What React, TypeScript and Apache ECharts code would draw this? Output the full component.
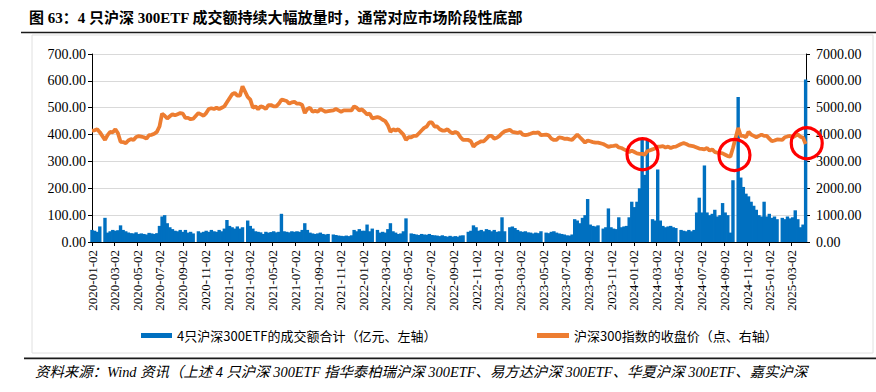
import React, { useEffect, useRef } from 'react';
import * as echarts from 'echarts';

const TITLE = '图 63：4 只沪深 300ETF 成交额持续大幅放量时，通常对应市场阶段性底部';
const SOURCE = '资料来源：Wind 资讯（上述 4 只沪深 300ETF 指华泰柏瑞沪深 300ETF、易方达沪深 300ETF、华夏沪深 300ETF、嘉实沪深';
const BAR_NAME = '4只沪深300ETF的成交额合计（亿元、左轴）';
const LINE_NAME = '沪深300指数的收盘价（点、右轴）';

// Weekly readings (one point per week, dated on the Wednesday), first week: 2020-01-01
const FIRST_WEEK = '2020-01-01';
const AXIS_START = '2020-01-01';
const AXIS_END = '2025-04-10';

// 4 ETFs turnover, 亿元 (left axis); null = exchange holiday week
const vol2020 = [45, 42, 38, 58, null, 90, 35, 40, 45, 42, 44, 62, 45, 40, 35, 33, 32, 36, 30, 32, 30, 28, 34, 32, 30, 33, 60, 95, 100, 70, 55, 48, 42, 40, 45, 38, 45, 35, 38, 32, null, 40, 35, 38, 42, 38, 45, 40, 38, 45, 40, 50, 82];
const vol2021 = [60, 55, 50, 58, 50, 55, null, 80, 60, 50, 40, 38, 36, 30, 38, 35, 37, 40, 36, 38, 105, 40, 38, 36, 40, 38, 40, 38, 45, 70, 45, 35, 32, 30, 32, 35, 30, 28, 30, null, 28, 26, 24, 23, 22, 24, 22, 25, 45, 40, 48, 42];
const vol2022 = [42, 65, 40, 50, null, 45, 35, 38, 35, 48, 70, 40, 35, 30, 32, 40, 88, null, 32, 30, 28, 26, 30, 28, 27, 30, 26, 25, 24, 22, 25, 22, 20, 23, 20, 22, 20, 24, 25, null, 38, 42, 62, 55, 42, 45, 40, 48, 45, 40, 45, 38];
const vol2023 = [40, 92, 40, null, 55, 58, 52, 45, 40, 38, 40, 36, 35, 32, 35, 33, 40, null, 35, 33, 38, 40, 35, 32, 30, 28, 25, 24, 28, 85, 80, 70, 90, 100, 160, 65, 60, 58, 62, null, 50, 55, 125, 55, 50, 48, 92, 55, 58, 60, 92, 150];
const vol2024 = [130, 150, 200, 380, 250, 380, null, 85, 80, 270, 80, 60, 55, 58, 60, 55, 52, null, 45, 42, 40, 45, 40, 45, 110, 165, 110, 285, 110, 100, 105, 120, 95, 100, 145, 110, 100, 35, 230, null, 540, 240, 205, 180, 170, 150, 135, 120, 100, 95, 150, 95];
const vol2025 = [105, 90, 95, 85, null, 90, 85, 95, 88, 92, 118, 85, 55, 65, 605];

// CSI 300 close, points (right axis)
const idx2020 = [4150, 4160, 4200, 4090, null, 3800, 3980, 4100, 4080, 4200, 4050, 3730, 3720, 3680, 3780, 3830, 3800, 3910, 3940, 3920, 3900, 3850, 3980, 3990, 4030, 4100, 4300, 4780, 4700, 4600, 4680, 4760, 4720, 4760, 4800, 4780, 4620, 4620, 4570, 4590, null, 4800, 4750, 4700, 4800, 4950, 4980, 4950, 5000, 4950, 5000, 5050, 5200];
const idx2021 = [5350, 5500, 5550, 5450, 5450, 5800, null, 5400, 5300, 5000, 5050, 4950, 5050, 5020, 4950, 5100, 5100, 5050, 5050, 5150, 5300, 5280, 5250, 5150, 5200, 5220, 5150, 5150, 5100, 4800, 4950, 5000, 4850, 4880, 4850, 4950, 4900, 4850, 4870, null, 4900, 4950, 4900, 4850, 4900, 4900, 4900, 4900, 5050, 5000, 4900, 4940];
const idx2022 = [4850, 4750, 4780, 4600, null, 4650, 4620, 4550, 4500, 4350, 4100, 4200, 4150, 4200, 4100, 4000, 3800, 3900, 3900, 3950, 3950, 4050, 4150, 4250, 4300, 4450, 4450, 4300, 4300, 4200, 4150, 4150, 4200, 4100, 4050, 4100, 4050, 3900, 3800, null, 3800, 3750, 3550, 3650, 3700, 3750, 3750, 3850, 3950, 3950, 3850, 3880];
const idx2023 = [3950, 4050, 4120, null, 4180, 4100, 4080, 4060, 4100, 4000, 3980, 4000, 4030, 4070, 4060, 4080, 3980, null, 4000, 3970, 3850, 3800, 3800, 3900, 3880, 3840, 3850, 3820, 3800, 3900, 4000, 3900, 3800, 3700, 3780, 3750, 3720, 3700, 3700, null, 3650, 3600, 3540, 3570, 3580, 3600, 3520, 3500, 3450, 3400, 3350, 3400];
const idx2024 = [3350, 3300, 3280, 3280, 3250, 3380, null, 3450, 3480, 3550, 3550, 3570, 3520, 3550, 3500, 3540, 3550, null, 3650, 3680, 3650, 3600, 3580, 3560, 3520, 3480, 3470, 3450, 3500, 3400, 3450, 3350, 3330, 3320, 3300, 3250, 3200, 3180, 3500, null, 4250, 3950, 3950, 3900, 4100, 4000, 3950, 3900, 3950, 4000, 3950, 3950];
const idx2025 = [3850, 3750, 3780, 3820, null, 3800, 3900, 3930, 3950, 3900, 3950, 4000, 3920, 3880, 3650];

const xTickLabels = [
  '2020-01-02', '2020-03-02', '2020-05-02', '2020-07-02', '2020-09-02', '2020-11-02',
  '2021-01-02', '2021-03-02', '2021-05-02', '2021-07-02', '2021-09-02', '2021-11-02',
  '2022-01-02', '2022-03-02', '2022-05-02', '2022-07-02', '2022-09-02', '2022-11-02',
  '2023-01-02', '2023-03-02', '2023-05-02', '2023-07-02', '2023-09-02', '2023-11-02',
  '2024-01-02', '2024-03-02', '2024-05-02', '2024-07-02', '2024-09-02', '2024-11-02',
  '2025-01-02', '2025-03-02',
];

// red circle annotations: [date, index level]
const circleDates = ['2024-01-25', '2024-09-29', '2025-04-12'];
const circleLevels = [3265, 3240, 3675];

const DAY = 86400000;
const parseDate = (s: string) => {
  const [y, m, d] = s.split('-').map(Number);
  return Date.UTC(y, m - 1, d) / DAY; // day number
};
const fmt = (dayNum: number) => {
  const d = new Date(Math.round(dayNum) * DAY);
  const p = (n: number) => (n < 10 ? '0' + n : '' + n);
  return `${d.getUTCFullYear()}-${p(d.getUTCMonth() + 1)}-${p(d.getUTCDate())}`;
};

const SERIF = '"Liberation Serif", "Noto Sans CJK SC", serif';
const SANS = '"Noto Sans CJK SC", sans-serif';

export default function App() {
  const ref = useRef<HTMLDivElement>(null);

  useEffect(() => {
    if (!ref.current) return;
    const chart = echarts.init(ref.current, undefined, { renderer: 'svg' });

    const vols = [...vol2020, ...vol2021, ...vol2022, ...vol2023, ...vol2024, ...vol2025];
    const idxs = [...idx2020, ...idx2021, ...idx2022, ...idx2023, ...idx2024, ...idx2025];
    const firstDay = parseDate(FIRST_WEEK);
    const weekDays = vols.map((_, i) => firstDay + 7 * i);
    const barData = vols.map((v, i) => [weekDays[i], v]);
    const lineData = idxs.map((v, i) => [weekDays[i], v]);
    const tickDays = xTickLabels.map(parseDate);

    const axisText = { fontFamily: SERIF, fontSize: 14, color: '#000' };
    const legendText = { fontFamily: SANS, fontSize: 13, color: '#000' };

    chart.setOption({
      animation: false,
      backgroundColor: '#fff',
      grid: { left: 92, right: 70, top: 54, bottom: 150 },
      legend: [
        {
          left: 141, top: 329, padding: 0, itemWidth: 31, itemHeight: 5, itemGap: 0,
          data: [{ name: BAR_NAME, icon: 'rect' }],
          textStyle: legendText,
        },
        {
          left: 537, top: 329, padding: 0, itemWidth: 32, itemHeight: 5, itemGap: 0,
          data: [{ name: LINE_NAME, icon: 'rect' }],
          textStyle: legendText,
        },
      ],
      xAxis: {
        type: 'value',
        min: parseDate(AXIS_START),
        max: parseDate(AXIS_END),
        axisLine: { onZero: false, lineStyle: { color: '#000', width: 1 } },
        axisTick: { show: true, length: 4, customValues: tickDays, lineStyle: { color: '#000' } },
        axisLabel: {
          rotate: 90, margin: 8, fontFamily: SERIF, fontSize: 13, color: '#000',
          customValues: tickDays, formatter: (v: number) => fmt(v),
        },
        splitLine: { show: false },
      },
      yAxis: [
        {
          type: 'value', min: 0, max: 700, interval: 100,
          axisLine: { show: true, lineStyle: { color: '#000' } },
          axisTick: { show: true, length: 4, lineStyle: { color: '#000' } },
          axisLabel: { ...axisText, margin: 6, formatter: (v: number) => v.toFixed(2) },
          splitLine: { show: true, lineStyle: { color: '#D9D9D9', width: 1 } },
        },
        {
          type: 'value', min: 0, max: 7000, interval: 1000,
          axisLine: { show: true, lineStyle: { color: '#000' } },
          axisTick: { show: true, length: 4, lineStyle: { color: '#000' } },
          axisLabel: { ...axisText, margin: 10, formatter: (v: number) => v.toFixed(2) },
          splitLine: { show: false },
        },
      ],
      series: [
        {
          name: BAR_NAME, type: 'bar', yAxisIndex: 0, data: barData,
          barWidth: 3.4, itemStyle: { color: '#0070C0' },
        },
        {
          name: LINE_NAME, type: 'line', yAxisIndex: 1, data: lineData,
          showSymbol: false, connectNulls: true, smooth: false,
          lineStyle: { color: '#ED7D31', width: 3.8 }, itemStyle: { color: '#ED7D31' },
          z: 3,
        },
      ],
      graphic: [
        {
          id: 'title', type: 'text', left: 29, top: 10,
          style: { text: TITLE, font: `bold 15px ${SERIF}`, fill: '#000' },
        },
        {
          id: 'topRule', type: 'line',
          shape: { x1: 21, y1: 32.5, x2: 876, y2: 32.5 },
          style: { stroke: '#1a1a1a', lineWidth: 1.6 },
        },
        {
          id: 'frame', type: 'rect', z: -10,
          shape: { x: 32, y: 35, width: 841, height: 318 },
          style: { fill: 'none', stroke: '#E0E0E0', lineWidth: 1 },
        },
        {
          id: 'bottomRule', type: 'line',
          shape: { x1: 24, y1: 358.3, x2: 876, y2: 358.3 },
          style: { stroke: '#1a1a1a', lineWidth: 1.8 },
        },
        {
          id: 'source', type: 'text', left: 35, top: 365,
          style: { text: SOURCE, font: `italic 14.4px ${SERIF}`, fill: '#000' },
        },
      ],
    });

    const circles = circleDates.map((d, i) => {
      const p = chart.convertToPixel({ xAxisIndex: 0, yAxisIndex: 1 } as any, [parseDate(d), circleLevels[i]]) as number[];
      return {
        id: 'circle' + i, type: 'circle', z: 100,
        shape: { cx: p[0], cy: p[1], r: 15.5 },
        style: { fill: 'none', stroke: '#FF0000', lineWidth: 3.2 },
      };
    });
    chart.setOption({ graphic: circles });

    return () => chart.dispose();
  }, []);

  return (
    <div
      ref={ref}
      style={{ position: 'absolute', left: 0, top: 0, width: 876, height: 392, background: '#fff' }}
    />
  );
}
